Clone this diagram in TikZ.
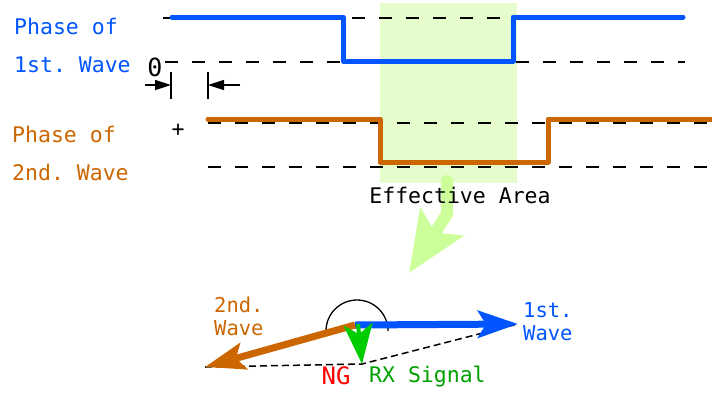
\documentclass[tikz,border=0pt]{standalone}
\usepackage{fontspec}
\setmonofont{DejaVu Sans Mono}
\usetikzlibrary{arrows.meta, positioning, calc}

\definecolor{waveblue}{RGB}{0,85,255}
\definecolor{waveorange}{RGB}{204,102,0}
\definecolor{areagreen}{RGB}{229,252,204}
\definecolor{pointgreen}{RGB}{204,255,153}
\definecolor{rxgreen}{RGB}{0,204,0}
\definecolor{rxtext}{RGB}{0,160,0}

\begin{document}
\begin{tikzpicture}[
	x=1pt, y=-1pt, % pixel grid, y downwards
	>=Stealth,
	% Style for the texts
	txt/.style={
		inner sep=0pt,
		font=\ttfamily\fontsize{21.5}{23}\selectfont
	},
	% Style for the phase lines
	wave/.style={
		line width=5pt,
		line join=round,
		line cap=round
	},
	% Style for the dashed reference levels
	guide/.style={
		line width=1.5pt,
		dash pattern=on 13pt off 14pt
	},
	% Style for the offset marks
	dim/.style={
		line width=1.5pt
	},
	% Style for the vectors
	vec/.style={
		line width=7pt,
		-{Stealth[length=40pt, width=27pt, inset=8pt]}
	},
	sum/.style={
		line width=1.5pt,
		dash pattern=on 7pt off 4pt
	}
	]
	
	\useasboundingbox (0,0) rectangle (712,392);
	
	% --- EFFECTIVE AREA ---
	\fill[areagreen] (380,3) rectangle (517,183);
	
	% --- REFERENCE LEVELS ---
	\draw[guide] (163,18) -- (685,18);
	\draw[guide] (165,62) -- (685,62);
	\draw[guide] (208,123) -- (712,123);
	\draw[guide] (208,167) -- (712,167);
	
	% --- PHASE LINES ---
	\draw[wave, waveblue] (172,17) -- (343,17) -- (343,61) -- (513,61) -- (513,17) -- (683,17);
	\draw[wave, waveorange] (208,119) -- (380,119) -- (380,162) -- (548,162) -- (548,119) -- (712,119);
	
	% --- TEXTS ---
	\node[txt, waveblue, anchor=base west] (ph1) at (14,34) {Phase of};
	\node[txt, waveblue, anchor=base west] (w1) at (14,72) {1st. Wave};
	\node[txt, waveorange, anchor=base west] (ph2) at (12,142) {Phase of};
	\node[txt, waveorange, anchor=base west] (w2) at (12,180) {2nd. Wave};
	\node[txt, font=\ttfamily\fontsize{25}{26}\selectfont] (zero) at (155,67) {0};
	\node[txt] (plus) at (178,130) {+};
	
	% --- OFFSET MARKS ---
	\coordinate (markL) at (171,85);
	\coordinate (markR) at (208,85);
	\draw[dim] ($(markL)+(0,-13)$) -- ($(markL)+(0,14)$);
	\draw[dim] ($(markR)+(0,-13)$) -- ($(markR)+(0,14)$);
	\draw[dim, -{Triangle[length=16pt, width=10pt]}] ($(markL)+(-26,0)$) -- (markL);
	\draw[dim, -{Triangle[length=16pt, width=10pt]}] ($(markR)+(32,0)$) -- (markR);
	
	% --- POINTER TO THE VECTORS ---
	\coordinate (ptrA) at (447,181);
	\coordinate (ptrB) at (447,214);
	\coordinate (ptrC) at (409,273);
	\draw[pointgreen, line width=12pt, line cap=round, -{Stealth[length=60pt, width=50pt, inset=12pt]}] (ptrA) -- (ptrB) -- (ptrC);
	\node[txt, anchor=base] (area) at (460,203) {Effective Area};
	
	% --- VECTORS ---
	\coordinate (O) at (355,325);
	\coordinate (tip1) at (518,324);
	\coordinate (tip2) at (205,367);
	\coordinate (tipRX) at (362,364);
	\coordinate (arcC) at (357,331);
	
	\draw[line width=1.3pt] (arcC) ++(-31pt,0) arc[start angle=180, end angle=0, radius=31pt];
	\draw[sum] (tip2) -- (tipRX) -- (tip1);
	
	\draw[vec, waveblue] (O) -- (tip1);
	\draw[vec, waveorange] (O) -- (tip2);
	\draw[rxgreen, line width=4pt, -{Stealth[length=40pt, width=29pt, inset=10pt]}] (358,324) -- (tipRX);
	
	\node[txt, waveorange, align=left, anchor=north west, font=\ttfamily\fontsize{20.5}{23}\selectfont] (v2) at (214,297) {2nd.\\Wave};
	\node[txt, waveblue, align=left, anchor=north west, font=\ttfamily\fontsize{20.5}{23}\selectfont] (v1) at (523,302) {1st.\\Wave};
	\node[txt, red, font=\ttfamily\fontsize{24}{25}\selectfont] (ng) at (336,376) {NG};
	\node[txt, rxtext, anchor=base west] (rx) at (369,382) {RX Signal};
	
\end{tikzpicture}
\end{document}
